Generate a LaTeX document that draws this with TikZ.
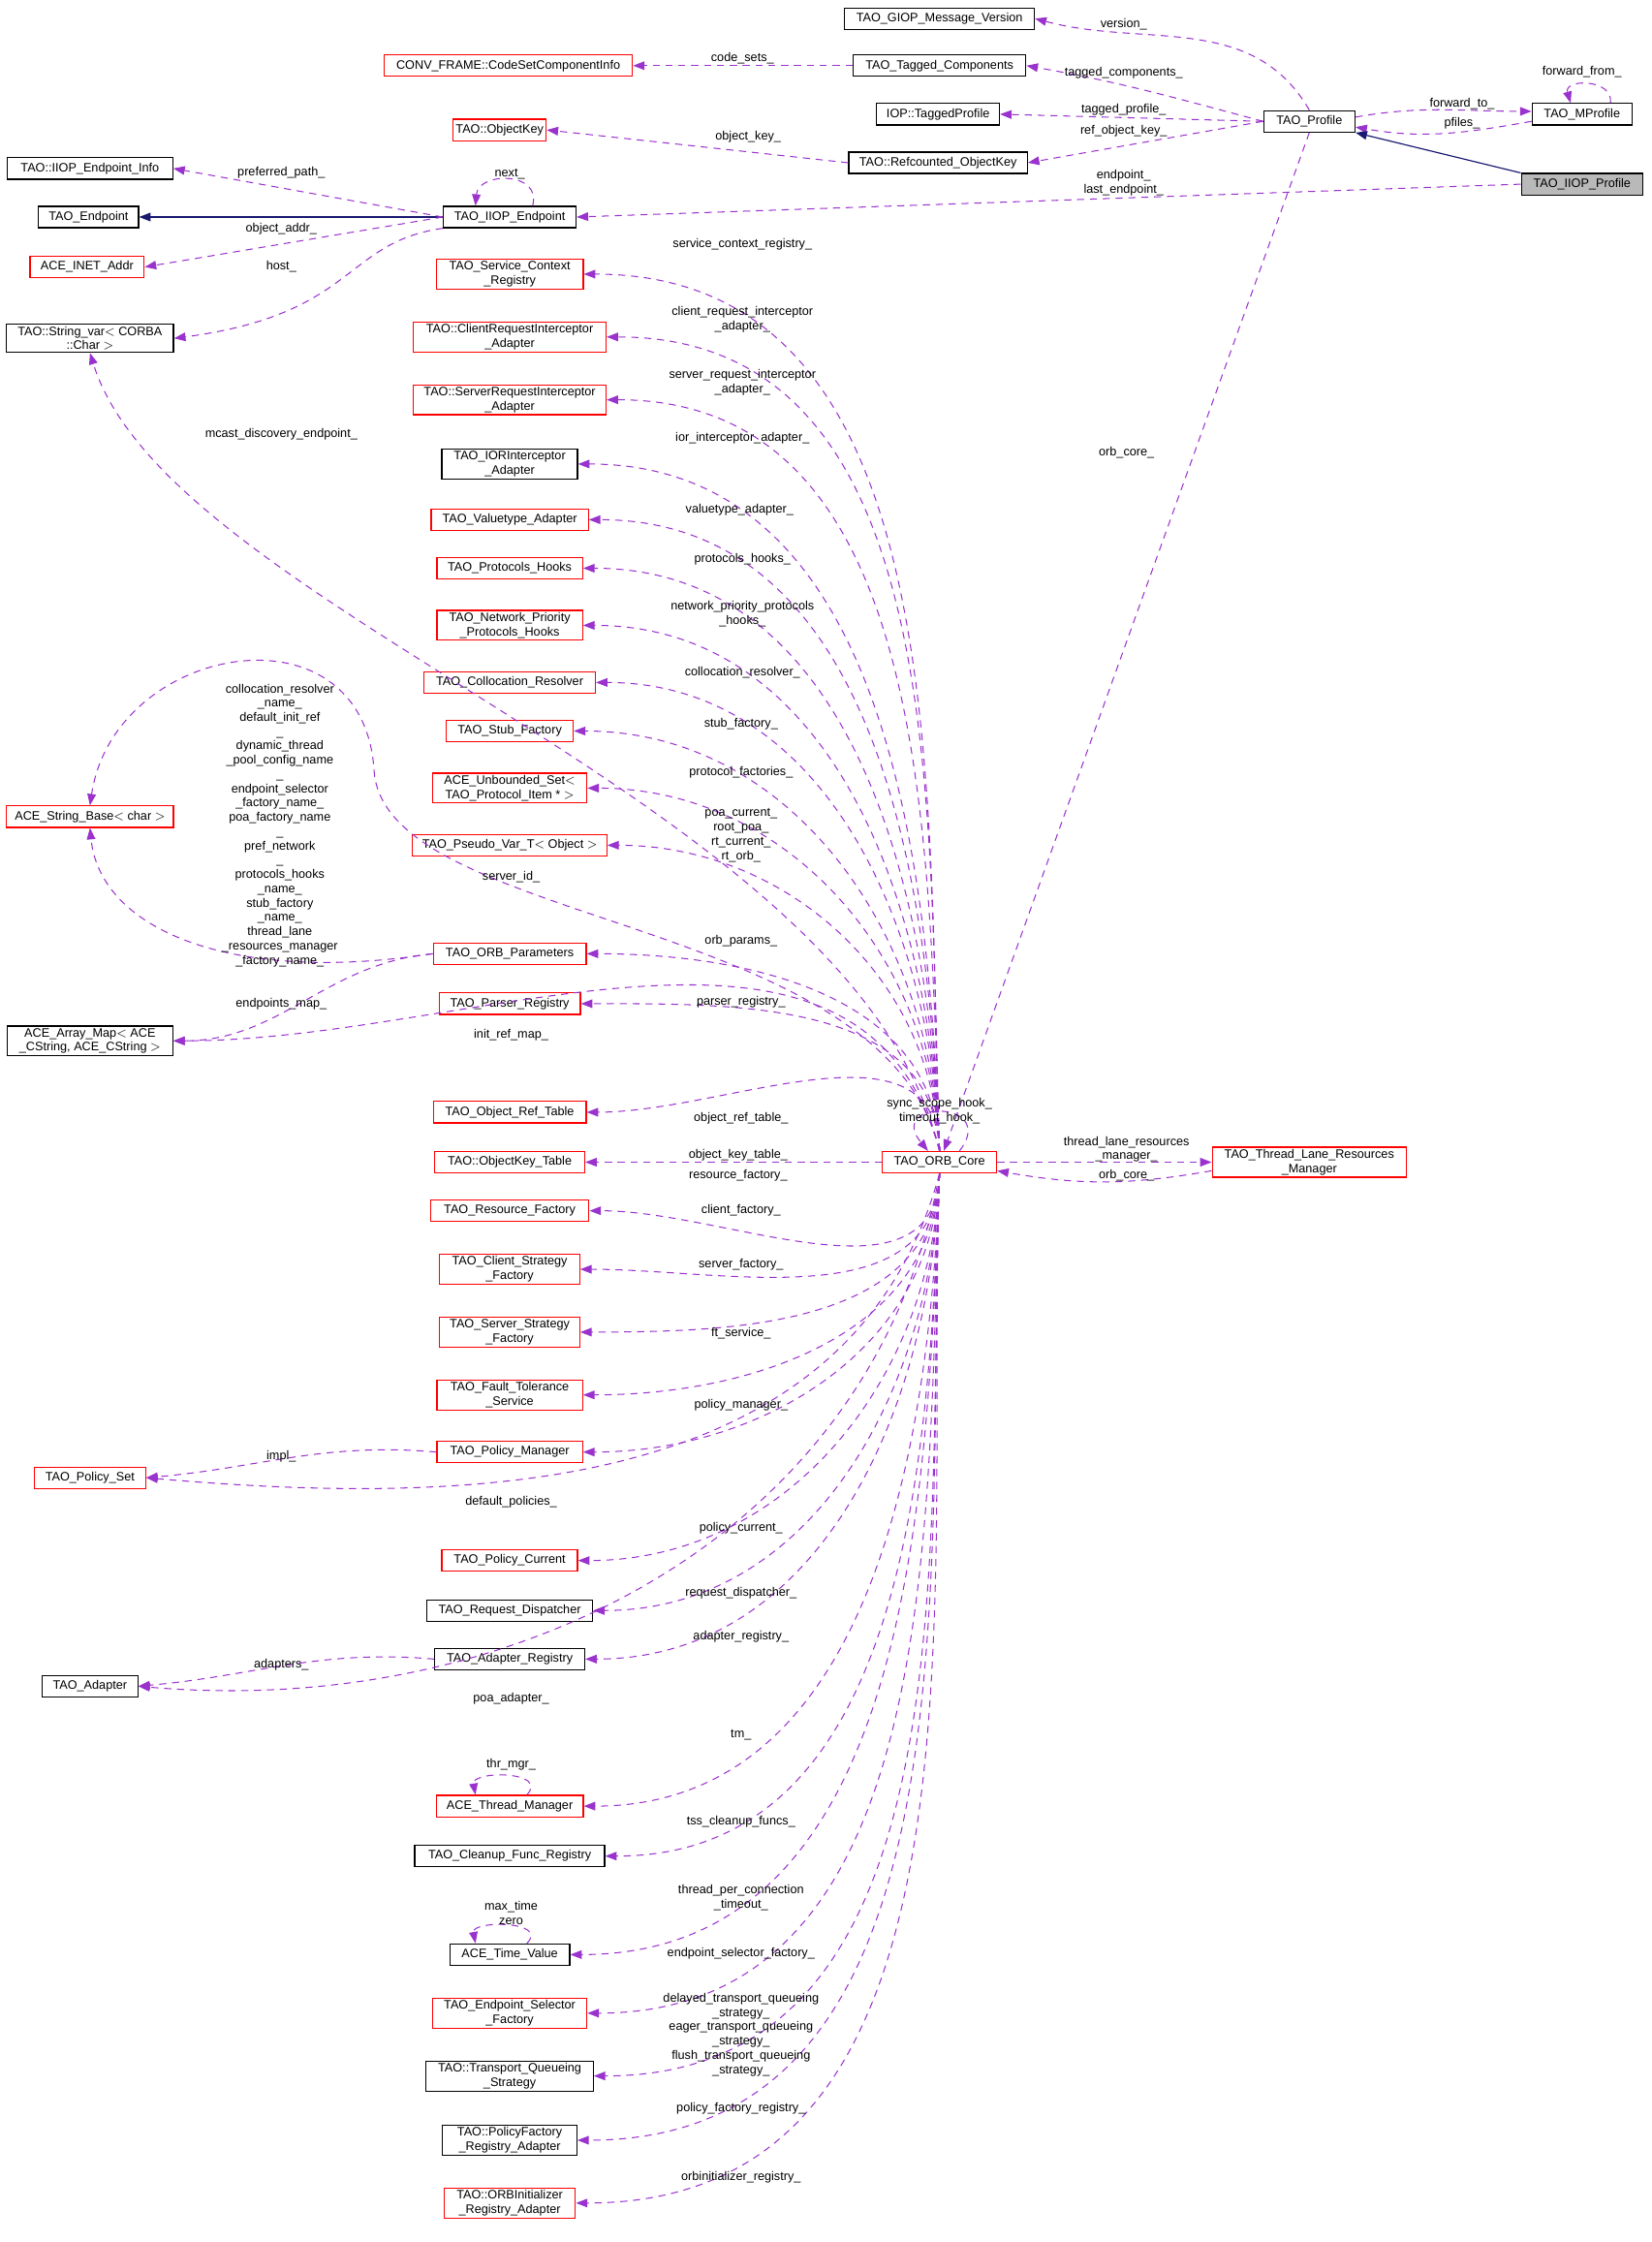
\documentclass[tikz,border=0pt]{standalone}
\usepackage{fontspec}
\setmainfont{Liberation Sans}
\usetikzlibrary{arrows.meta}
\definecolor{mem}{HTML}{9A32CD}
\definecolor{inh}{HTML}{191970}
\begin{document}
\begin{tikzpicture}[x=1pt,y=1pt,
  box/.style={draw=black,fill=white,font=\fontsize{8.6}{10}\selectfont,align=center,inner sep=1.5pt,minimum height=15,line width=0.8pt},
  rbox/.style={box,draw=red},
  lab/.style={font=\fontsize{8.6}{10}\selectfont,align=center,inner sep=0pt},
  mem/.style={draw=mem,dashed,dash pattern=on 5pt off 4pt,line width=0.7pt,-{Triangle[length=8pt,width=6pt]}},
  inhe/.style={draw=inh,line width=0.8pt,-{Triangle[length=8pt,width=6pt]}}]
\useasboundingbox (0,0) rectangle (1157,-1570.3);
% top area
\node[box,minimum width=133] (giop) at (658,-13) {TAO\_GIOP\_Message\_Version};
\node[rbox,minimum width=174] (conv) at (356,-46) {CONV\_FRAME::CodeSetComponentInfo};
\node[box,minimum width=121] (tc) at (658,-46) {TAO\_Tagged\_Components};
\node[box,minimum width=86] (tp) at (657,-80) {IOP::TaggedProfile};
\node[rbox,minimum width=65] (okey) at (350,-91) {TAO::ObjectKey};
\node[box,minimum width=125] (rok) at (657,-114) {TAO::Refcounted\_ObjectKey};
\node[box,minimum width=64] (prof) at (917,-85) {TAO\_Profile};
\node[box,minimum width=70] (mp) at (1108,-80) {TAO\_MProfile};
\node[box,fill=gray!55,minimum width=85] (iprof) at (1108,-129) {TAO\_IIOP\_Profile};
\node[box,minimum width=116] (epinfo) at (63,-118) {TAO::IIOP\_Endpoint\_Info};
\node[box,minimum width=70] (ep) at (62,-152) {TAO\_Endpoint};
\node[box,minimum width=93] (iep) at (357,-152) {TAO\_IIOP\_Endpoint};
\node[rbox,minimum width=80] (inet) at (61,-187) {ACE\_INET\_Addr};
\node[box,minimum width=117] (strvar) at (63,-237) {TAO::String\_var$<$ CORBA\\::Char $>$};
% left column
\node[rbox,minimum width=117] (strbase) at (63,-572) {ACE\_String\_Base$<$ char $>$};
\node[box,minimum width=116] (amap) at (63,-729) {ACE\_Array\_Map$<$ ACE\\\_CString, ACE\_CString $>$};
\node[rbox,minimum width=78] (pset) at (63,-1035) {TAO\_Policy\_Set};
\node[box,minimum width=67] (adp) at (63,-1181) {TAO\_Adapter};
% middle column
\node[rbox,minimum width=103] (scr) at (357,-192) {TAO\_Service\_Context\\\_Registry};
\node[rbox,minimum width=135] (cri) at (357,-236) {TAO::ClientRequestInterceptor\\\_Adapter};
\node[rbox,minimum width=135] (sri) at (357,-280) {TAO::ServerRequestInterceptor\\\_Adapter};
\node[box,minimum width=95] (iori) at (357,-325) {TAO\_IORInterceptor\\\_Adapter};
\node[rbox,minimum width=110] (vta) at (357,-364) {TAO\_Valuetype\_Adapter};
\node[rbox,minimum width=102] (ph) at (357,-398) {TAO\_Protocols\_Hooks};
\node[rbox,minimum width=102] (nph) at (357,-438) {TAO\_Network\_Priority\\\_Protocols\_Hooks};
\node[rbox,minimum width=120] (cr) at (357,-478) {TAO\_Collocation\_Resolver};
\node[rbox,minimum width=89] (sf) at (357,-512) {TAO\_Stub\_Factory};
\node[rbox,minimum width=108] (us) at (357,-552) {ACE\_Unbounded\_Set$<$\\TAO\_Protocol\_Item * $>$};
\node[rbox,minimum width=136] (pv) at (357,-592) {TAO\_Pseudo\_Var\_T$<$ Object $>$};
\node[rbox,minimum width=107] (op) at (357,-668) {TAO\_ORB\_Parameters};
\node[rbox,minimum width=99] (pr) at (357,-703) {TAO\_Parser\_Registry};
\node[rbox,minimum width=107] (ort) at (357,-779) {TAO\_Object\_Ref\_Table};
\node[rbox,minimum width=105] (okt) at (357,-814) {TAO::ObjectKey\_Table};
\node[rbox,minimum width=111] (rf) at (357,-848) {TAO\_Resource\_Factory};
\node[rbox,minimum width=98] (csf) at (357,-889) {TAO\_Client\_Strategy\\\_Factory};
\node[rbox,minimum width=98] (ssf) at (357,-933) {TAO\_Server\_Strategy\\\_Factory};
\node[rbox,minimum width=102] (fts) at (357,-977) {TAO\_Fault\_Tolerance\\\_Service};
\node[rbox,minimum width=102] (pm) at (357,-1017) {TAO\_Policy\_Manager};
\node[rbox,minimum width=95] (pc) at (357,-1093) {TAO\_Policy\_Current};
\node[box,minimum width=116] (rd) at (357,-1128) {TAO\_Request\_Dispatcher};
\node[box,minimum width=105] (ar) at (357,-1162) {TAO\_Adapter\_Registry};
\node[rbox,minimum width=103] (tm) at (357,-1265) {ACE\_Thread\_Manager};
\node[box,minimum width=133] (cfr) at (357,-1300) {TAO\_Cleanup\_Func\_Registry};
\node[box,minimum width=84] (tv) at (357,-1369) {ACE\_Time\_Value};
\node[rbox,minimum width=108] (esf) at (357,-1410) {TAO\_Endpoint\_Selector\\\_Factory};
\node[box,minimum width=117] (tqs) at (357,-1454) {TAO::Transport\_Queueing\\\_Strategy};
\node[box,minimum width=94] (pfr) at (357,-1499) {TAO::PolicyFactory\\\_Registry\_Adapter};
\node[rbox,minimum width=92] (oir) at (357,-1543) {TAO::ORBInitializer\\\_Registry\_Adapter};
\node[rbox,minimum width=80] (core) at (658,-814) {TAO\_ORB\_Core};
\node[rbox,minimum width=136] (tl) at (917,-814) {TAO\_Thread\_Lane\_Resources\\\_Manager};
% core fans
\foreach \t in {scr,cri,sri,iori,vta,ph,nph,cr,sf,us,pv,op,pr,ort}
  \draw[mem] (core.north) to[out=92,in=0] (\t.east);
\foreach \t in {rf,csf,ssf,fts,pm,pc,rd,ar,tm,cfr,tv,esf,tqs,pfr,oir}
  \draw[mem] (core.south) to[out=-92,in=0] (\t.east);
\draw[mem] (core.west) -- (okt.east);
\draw[mem] (core.north) to[out=105,in=0] (amap.east);
\draw[mem] (core.south) to[out=-105,in=-5] (pset.east);
\draw[mem] (core.south) to[out=-100,in=-5] (adp.east);
\draw[mem] (pm.west) to[out=175,in=5] (pset.east);
\draw[mem] (ar.west) to[out=175,in=5] (adp.east);
\draw[mem] (op.west) to[out=185,in=0] (amap.east);
\draw[mem] (op.west) .. controls (160,-690) and (70,-650) .. (strbase.south);
\draw[mem] (core.north) .. controls (620,-640) and (270,-650) .. (262,-540) .. controls (255,-420) and (80,-450) .. (strbase.north);
\draw[mem] (core.north) .. controls (600,-560) and (120,-430) .. (strvar.south);
% core self loop and thread lane
\draw[mem] ([xshift=14]core.north) .. controls (700,-770) and (620,-770) .. ([xshift=-8]core.north);
\draw[mem] (core.east) -- (tl.west);
\draw[mem] ([yshift=-6]tl.west) to[out=190,in=-10] ([yshift=-6]core.east);
\draw[mem] (prof.south) -- ([xshift=3]core.north);
% profile region
\draw[mem] (prof.north) to[out=120,in=-15] (giop.east);
\draw[mem] (prof.west) to[out=165,in=-10] (tc.east);
\draw[mem] (prof.west) -- (tp.east);
\draw[mem] (prof.west) to[out=190,in=10] (rok.east);
\draw[mem] (tc.west) -- (conv.east);
\draw[mem] (rok.west) -- (okey.east);
\draw[mem] ([yshift=3]prof.east) to[out=10,in=180] ([yshift=2]mp.west);
\draw[mem] ([yshift=-5]mp.west) to[out=190,in=-10] ([yshift=-4]prof.east);
\draw[mem] ([xshift=20]mp.north) .. controls (1130,-55) and (1095,-55) .. ([xshift=-8]mp.north);
\draw[inhe] (iprof.north west) -- (prof.south east);
\draw[mem] (iprof.west) -- (iep.east);
% iiop endpoint
\draw[inhe] (iep.west) -- (ep.east);
\draw[mem] (iep.west) -- (epinfo.east);
\draw[mem] (iep.west) -- (inet.east);
\draw[mem] (iep.south west) .. controls (240,-170) and (250,-220) .. (strvar.east);
\draw[mem] ([xshift=16]iep.north) .. controls (380,-120) and (335,-120) .. ([xshift=-24]iep.north);
% thread manager / time value self loops
\draw[mem] ([xshift=12]tm.north) .. controls (385,-1240) and (330,-1240) .. ([xshift=-24]tm.north);
\draw[mem] ([xshift=12]tv.north) .. controls (385,-1345) and (330,-1345) .. ([xshift=-24]tv.north);
% labels
\node[lab] (l1) at (787,-17) {version\_};
\node[lab] (l2) at (787,-51) {tagged\_components\_};
\node[lab] (l3) at (787,-77) {tagged\_profile\_};
\node[lab] (l4) at (787,-92) {ref\_object\_key\_};
\node[lab] (l5) at (787,-128) {endpoint\_\\last\_endpoint\_};
\node[lab] (l6) at (1024,-73) {forward\_to\_};
\node[lab] (l7) at (1024,-86) {pfiles\_};
\node[lab] (l8) at (1108,-50) {forward\_from\_};
\node[lab] (l9) at (520,-41) {code\_sets\_};
\node[lab] (l10) at (524,-96) {object\_key\_};
\node[lab] (l11) at (197,-121) {preferred\_path\_};
\node[lab] (l12) at (197,-160) {object\_addr\_};
\node[lab] (l13) at (197,-187) {host\_};
\node[lab] (l14) at (357,-122) {next\_};
\node[lab] (l15) at (789,-317) {orb\_core\_};
\node[lab] (l16) at (197,-304) {mcast\_discovery\_endpoint\_};
\node[lab] (l17) at (520,-171) {service\_context\_registry\_};
\node[lab] (l18) at (520,-224) {client\_request\_interceptor\\\_adapter\_};
\node[lab] (l19) at (520,-268) {server\_request\_interceptor\\\_adapter\_};
\node[lab] (l20) at (520,-307) {ior\_interceptor\_adapter\_};
\node[lab] (l21) at (518,-357) {valuetype\_adapter\_};
\node[lab] (l22) at (520,-392) {protocols\_hooks\_};
\node[lab] (l23) at (520,-430) {network\_priority\_protocols\\\_hooks\_};
\node[lab] (l24) at (520,-471) {collocation\_resolver\_};
\node[lab] (l25) at (519,-507) {stub\_factory\_};
\node[lab] (l26) at (519,-541) {protocol\_factories\_};
\node[lab] (l27) at (519,-585) {poa\_current\_\\root\_poa\_\\rt\_current\_\\rt\_orb\_};
\node[lab] (l28) at (358,-614) {server\_id\_};
\node[lab] (l29) at (196,-578) {collocation\_resolver\\\_name\_\\default\_init\_ref\\\_\\dynamic\_thread\\\_pool\_config\_name\\\_\\endpoint\_selector\\\_factory\_name\_\\poa\_factory\_name\\\_\\pref\_network\\\_\\protocols\_hooks\\\_name\_\\stub\_factory\\\_name\_\\thread\_lane\\\_resources\_manager\\\_factory\_name\_};
\node[lab] (l30) at (519,-659) {orb\_params\_};
\node[lab] (l31) at (197,-703) {endpoints\_map\_};
\node[lab] (l32) at (519,-702) {parser\_registry\_};
\node[lab] (l33) at (358,-725) {init\_ref\_map\_};
\node[lab] (l34) at (658,-778) {sync\_scope\_hook\_\\timeout\_hook\_};
\node[lab] (l35) at (519,-783) {object\_ref\_table\_};
\node[lab] (l36) at (517,-809) {object\_key\_table\_};
\node[lab] (l37) at (517,-823) {resource\_factory\_};
\node[lab] (l38) at (789,-805) {thread\_lane\_resources\\\_manager\_};
\node[lab] (l39) at (789,-823) {orb\_core\_};
\node[lab] (l40) at (519,-848) {client\_factory\_};
\node[lab] (l41) at (519,-886) {server\_factory\_};
\node[lab] (l42) at (519,-934) {ft\_service\_};
\node[lab] (l43) at (519,-984) {policy\_manager\_};
\node[lab] (l44) at (197,-1020) {impl\_};
\node[lab] (l45) at (358,-1052) {default\_policies\_};
\node[lab] (l46) at (519,-1070) {policy\_current\_};
\node[lab] (l47) at (519,-1116) {request\_dispatcher\_};
\node[lab] (l48) at (519,-1146) {adapter\_registry\_};
\node[lab] (l49) at (197,-1166) {adapters\_};
\node[lab] (l50) at (358,-1190) {poa\_adapter\_};
\node[lab] (l51) at (519,-1215) {tm\_};
\node[lab] (l52) at (358,-1236) {thr\_mgr\_};
\node[lab] (l53) at (519,-1276) {tss\_cleanup\_funcs\_};
\node[lab] (l54) at (519,-1329) {thread\_per\_connection\\\_timeout\_};
\node[lab] (l55) at (358,-1340) {max\_time\\zero};
\node[lab] (l56) at (519,-1368) {endpoint\_selector\_factory\_};
\node[lab] (l57) at (519,-1425) {delayed\_transport\_queueing\\\_strategy\_\\eager\_transport\_queueing\\\_strategy\_\\flush\_transport\_queueing\\\_strategy\_};
\node[lab] (l58) at (519,-1477) {policy\_factory\_registry\_};
\node[lab] (l59) at (519,-1525) {orbinitializer\_registry\_};
\end{tikzpicture}
\end{document}
